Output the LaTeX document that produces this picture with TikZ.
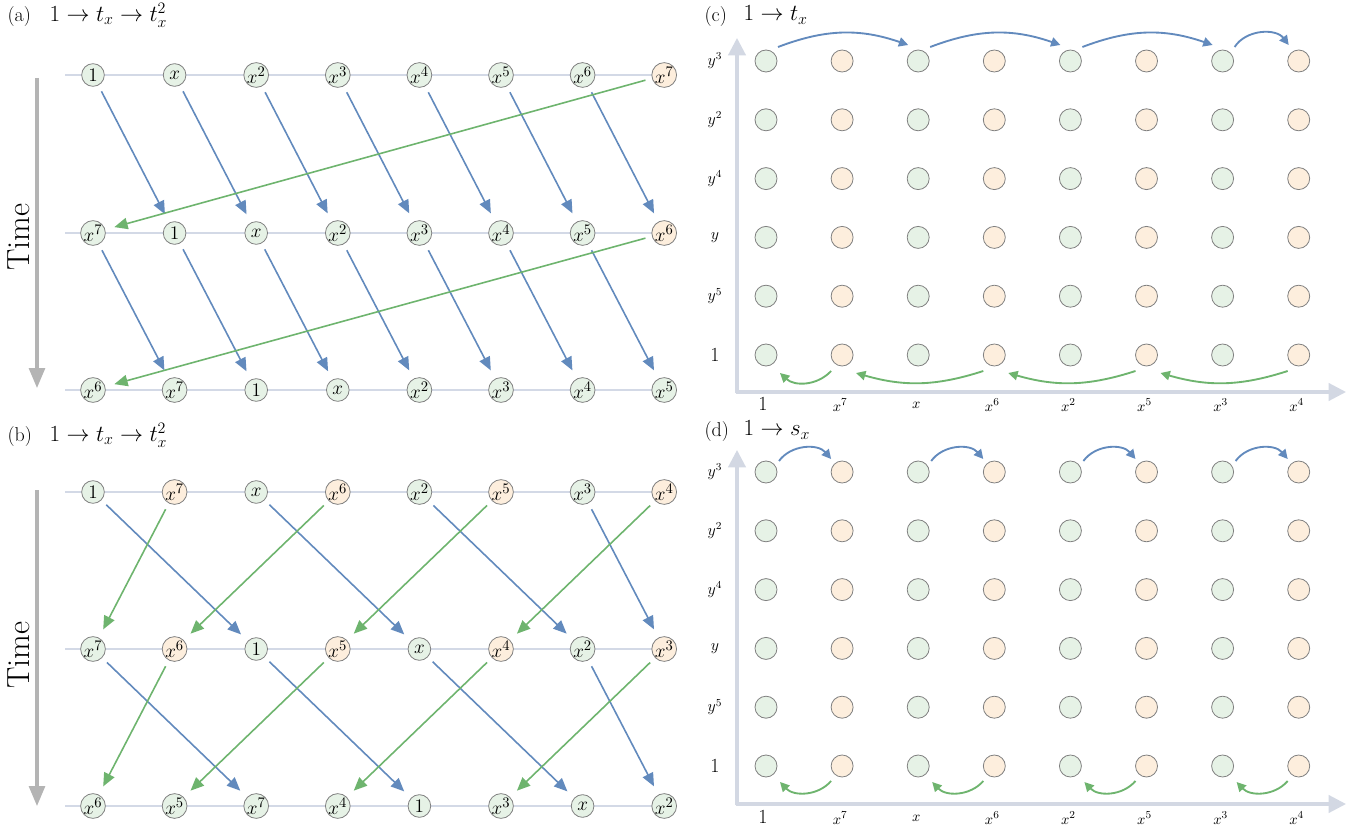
\documentclass[tikz,border=0pt]{standalone}
\usetikzlibrary{arrows.meta,shapes.geometric}
\definecolor{gfill}{HTML}{E6F2E6}
\definecolor{ofill}{HTML}{FDEEDD}
\definecolor{nborder}{HTML}{808080}
\definecolor{barrow}{HTML}{628ABD}
\definecolor{garrow}{HTML}{6EB46E}
\definecolor{rowline}{HTML}{D3D9E6}
\definecolor{timegray}{HTML}{B4B4B4}
\definecolor{axisc}{HTML}{D3D8E3}
\begin{document}
\begin{tikzpicture}[x=0.75pt,y=-0.75pt,
  tnode/.style={circle,draw=nborder,line width=0.6pt,minimum size=17pt,inner sep=0pt,font=\fontsize{15}{15}\selectfont},
  gnode/.style={tnode,fill=gfill},
  onode/.style={tnode,fill=ofill},
  pnode/.style={circle,draw=nborder,line width=0.6pt,minimum size=16.5pt,inner sep=0pt},
  gpt/.style={pnode,fill=gfill},
  opt/.style={pnode,fill=ofill},
  rowl/.style={draw=rowline,line width=1.1pt},
  barr/.style={draw=barrow,line width=1.2pt,-{Triangle[length=10pt,width=8.5pt]},shorten <=5pt,shorten >=7pt},
  garr/.style={draw=garrow,line width=1.2pt,-{Triangle[length=10pt,width=8.5pt]},shorten <=5pt,shorten >=7pt},
  barc/.style={draw=barrow,line width=1.4pt,-{Triangle[length=7pt,width=7pt]}},
  garc/.style={draw=garrow,line width=1.4pt,-{Triangle[length=7pt,width=7pt]}},
  timearr/.style={draw=timegray,line width=2.3pt,-{Triangle[length=15pt,width=12pt]}},
  axarr/.style={draw=axisc,line width=2.3pt,-{Triangle[length=13pt,width=13pt]}},
  small/.style={inner sep=1pt,font=\fontsize{15}{15}\selectfont},
  big/.style={inner sep=1pt,font=\fontsize{18}{18}\selectfont},
  timel/.style={rotate=90,font=\fontsize{24}{24}\selectfont},
  ylab/.style={inner sep=1pt,font=\fontsize{12}{12}\selectfont},
  xlab/.style={inner sep=1pt,font=\fontsize{11}{11}\selectfont},
  onelab/.style={inner sep=1pt,font=\fontsize{15}{15}\selectfont}
]
\useasboundingbox (0,0) rectangle (1364,834);

% ---------------- titles
\node[small,anchor=west] (ta) at (6,17) {(a)};
\node[big,anchor=west] (tam) at (48,15) {$1\to t_x\to t_x^2$};
\node[small,anchor=west] (tb) at (6,437) {(b)};
\node[big,anchor=west] (tbm) at (48,435) {$1\to t_x\to t_x^2$};
\node[small,anchor=west] (tc) at (703,17) {(c)};
\node[big,anchor=west] (tcm) at (742,15) {$1\to t_x$};
\node[small,anchor=west] (td) at (703,432) {(d)};
\node[big,anchor=west] (tdm) at (742,430) {$1\to s_x$};

% ---------------- Time arrows
\node[timel] (timeA) at (19,237) {Time};
\node[timel] (timeB) at (19,655) {Time};
\coordinate (tA1) at (37,78); \coordinate (tA2) at (37,388);
\coordinate (tB1) at (37,490); \coordinate (tB2) at (37,806);
\draw[timearr] (tA1) -- (tA2);
\draw[timearr] (tB1) -- (tB2);

% ---------------- row lines
\foreach \y in {75,233,390,492,649,806}
  \draw[rowl] (65,\y) -- (675,\y);

% ---------------- panel (a)
\foreach \l [count=\i from 0] in {1,x,x^2,x^3,x^4,x^5,x^6}
  \node[gnode] (aT\i) at ({93+81.6*\i},75) {$\l$};
\node[onode] (aT7) at ({93+81.6*7},75) {$x^7$};
\foreach \l [count=\i from 0] in {x^7,1,x,x^2,x^3,x^4,x^5}
  \node[gnode] (aM\i) at ({93+81.6*\i},233) {$\l$};
\node[onode] (aM7) at ({93+81.6*7},233) {$x^6$};
\foreach \l [count=\i from 0] in {x^6,x^7,1,x,x^2,x^3,x^4,x^5}
  \node[gnode] (aB\i) at ({93+81.6*\i},390) {$\l$};

\foreach \i [evaluate=\i as \j using int(\i+1)] in {0,...,6}{
  \draw[barr] (aT\i) -- (aM\j);
  \draw[barr] (aM\i) -- (aB\j);
}
\draw[garr] (aT7) -- (aM0);
\draw[garr] (aM7) -- (aB0);

% ---------------- panel (b)
\foreach \l [count=\i from 0] in {1,x,x^2,x^3}
  \node[gnode] (bT\the\numexpr2*\i\relax) at ({93+81.6*2*\i},492) {$\l$};
\foreach \l [count=\i from 0] in {x^7,x^6,x^5,x^4}
  \node[onode] (bT\the\numexpr2*\i+1\relax) at ({93+81.6*(2*\i+1)},492) {$\l$};
\foreach \l [count=\i from 0] in {x^7,1,x,x^2}
  \node[gnode] (bM\the\numexpr2*\i\relax) at ({93+81.6*2*\i},649) {$\l$};
\foreach \l [count=\i from 0] in {x^6,x^5,x^4,x^3}
  \node[onode] (bM\the\numexpr2*\i+1\relax) at ({93+81.6*(2*\i+1)},649) {$\l$};
\foreach \l [count=\i from 0] in {x^6,x^5,x^7,x^4,1,x^3,x,x^2}
  \node[gnode] (bB\i) at ({93+81.6*\i},806) {$\l$};

\draw[barr] (bT0) -- (bM2);
\draw[barr] (bT2) -- (bM4);
\draw[barr] (bT4) -- (bM6);
\draw[barr] (bT6) -- (bM7);
\draw[garr] (bT1) -- (bM0);
\draw[garr] (bT3) -- (bM1);
\draw[garr] (bT5) -- (bM3);
\draw[garr] (bT7) -- (bM5);
\draw[barr] (bM0) -- (bB2);
\draw[barr] (bM2) -- (bB4);
\draw[barr] (bM4) -- (bB6);
\draw[barr] (bM6) -- (bB7);
\draw[garr] (bM1) -- (bB0);
\draw[garr] (bM3) -- (bB1);
\draw[garr] (bM5) -- (bB3);
\draw[garr] (bM7) -- (bB5);

% ---------------- panels (c) and (d): axes
\coordinate (cO) at (737,392); \coordinate (cY) at (737,38); \coordinate (cX) at (1346,392);
\coordinate (dO) at (737,804); \coordinate (dY) at (737,450); \coordinate (dX) at (1346,804);
\draw[axarr] ([yshift=-1.1pt]cO) -- (cY);
\draw[axarr] ([xshift=-1.1pt]cO) -- (cX);
\draw[axarr] ([yshift=-1.1pt]dO) -- (dY);
\draw[axarr] ([xshift=-1.1pt]dO) -- (dX);

% grid points
\foreach \r in {0,...,5}{
  \foreach \c in {0,2,4,6}{
    \node[gpt] (c\c-\r) at ({766+76.1*\c},{61+58.8*\r}) {};
    \node[gpt] (d\c-\r) at ({766+76.1*\c},{472+58.8*\r}) {};
  }
  \foreach \c in {1,3,5,7}{
    \node[opt] (c\c-\r) at ({766+76.1*\c},{61+58.8*\r}) {};
    \node[opt] (d\c-\r) at ({766+76.1*\c},{472+58.8*\r}) {};
  }
}

% y labels
\foreach \l [count=\r from 0] in {y^3,y^2,y^4,y,y^5}{
  \node[ylab] (cy\r) at (715,{61+58.8*\r}) {$\l$};
  \node[ylab] (dy\r) at (715,{472+58.8*\r}) {$\l$};
}
\node[onelab] (cy5) at (715,355) {1};
\node[onelab] (dy5) at (715,766) {1};

% x labels
\node[onelab] (cx0) at (763,404) {1};
\node[onelab] (dx0) at (763,817) {1};
\foreach \l [count=\c from 1] in {x^7,x,x^6,x^2,x^5,x^3,x^4}{
  \node[xlab] (cx\c) at ({764+76.1*\c},405) {$\l$};
  \node[xlab] (dx\c) at ({764+76.1*\c},818) {$\l$};
}

% arcs (c)
\foreach \a/\b in {0/2,2/4,4/6}
  \draw[barc] ([shift={(12,-14)}]c\a-0.center) to[bend left=20] ([shift={(-10,-16)}]c\b-0.center);
\draw[barc] ([shift={(12,-14)}]c6-0.center) to[bend left=55] ([shift={(-10,-16)}]c7-0.center);
\draw[garc] ([shift={(-11,16)}]c1-5.center) to[bend left=45] ([shift={(14,18)}]c0-5.center);
\foreach \a/\b in {3/1,5/3,7/5}
  \draw[garc] ([shift={(-11,16)}]c\a-5.center) to[bend left=17] ([shift={(14,18)}]c\b-5.center);

% arcs (d)
\foreach \a/\b in {0/1,2/3,4/5,6/7}{
  \draw[barc] ([shift={(13,-11)}]d\a-0.center) to[bend left=52] ([shift={(-11,-13)}]d\b-0.center);
  \draw[garc] ([shift={(-11,15)}]d\b-5.center) to[bend left=48] ([shift={(14,16)}]d\a-5.center);
}
\end{tikzpicture}
\end{document}
